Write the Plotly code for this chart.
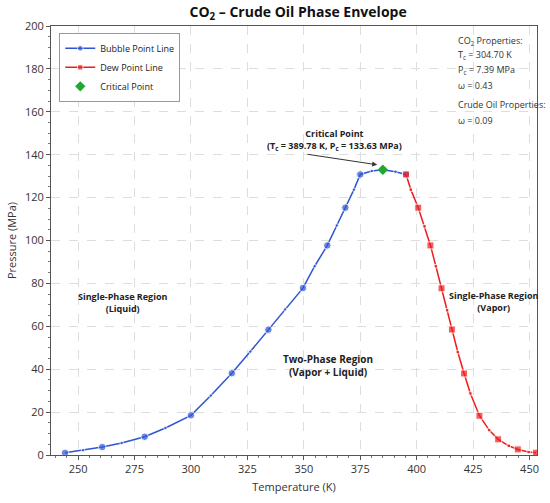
import plotly.graph_objects as go

# bubble point line (K, MPa), every other point drawn with a big marker
bubble_T = [244.2, 252.2, 260.7, 269.3, 279.5, 288.7, 300.0, 308.8, 318.1, 326.3, 334.3, 341.7,
            349.6, 354.8, 360.4, 364.6, 368.4, 372.2, 375.0, 380.1, 385.0, 390.6, 395.3]
bubble_P = [1.0, 2.2, 3.7, 5.6, 8.5, 12.6, 18.5, 27.7, 38.1, 48.2, 58.4, 67.9,
            77.8, 88.0, 97.7, 107.0, 115.3, 123.7, 130.8, 132.4, 133.0, 132.1, 130.8]

# dew point line
dew_T = [395.3, 397.4, 400.7, 403.5, 406.1, 408.5, 411.0, 413.5, 415.6, 418.2,
         421.0, 423.8, 427.8, 432.1, 436.1, 440.8, 444.8, 449.6, 452.9]
dew_P = [130.8, 123.7, 115.3, 106.6, 97.7, 88.0, 77.7, 67.5, 58.5, 48.0,
         38.0, 28.7, 18.3, 11.6, 7.3, 4.3, 2.6, 1.4, 1.1]

crit_T = [385.0]
crit_P = [133.0]

blue = "#2f55d4"
red = "#ee1c1c"
green = "#22a832"
txt = "#222222"

fig = go.Figure()
fig.add_trace(go.Scatter(
    x=bubble_T, y=bubble_P, mode="lines+markers", name="Bubble Point Line",
    line=dict(color=blue, width=1.5),
    marker=dict(color=blue, symbol="circle",
                size=[7.5 if i % 2 == 0 else 3.5 for i in range(len(bubble_T))])
))
fig.add_trace(go.Scatter(
    x=dew_T, y=dew_P, mode="lines+markers", name="Dew Point Line",
    line=dict(color=red, width=1.5),
    marker=dict(color=red, symbol="square",
                size=[7 if i % 2 == 0 else 3.5 for i in range(len(dew_T))])
))
fig.add_trace(go.Scatter(
    x=crit_T, y=crit_P, mode="markers", name="Critical Point",
    marker=dict(color=green, symbol="diamond", size=8)
))

bold = dict(size=9, color=txt, family="Open Sans")
ann = [
    dict(x=363.7, y=146.7, text="<b>Critical Point<br>(T<sub>c</sub> = 389.78 K, P<sub>c</sub> = 133.63 MPa)</b>",
         showarrow=False, font=bold),
    dict(x=382.5, y=135.3, ax=351, ay=140.3, axref="x", ayref="y", text="",
         showarrow=True, arrowhead=2, arrowsize=1, arrowwidth=1, arrowcolor="#333333"),
    dict(x=269.6, y=71.2, text="<b>Single-Phase Region<br>(Liquid)</b>", showarrow=False, font=bold),
    dict(x=360.6, y=41.9, text="<b>Two-Phase Region<br>(Vapor + Liquid)</b>", showarrow=False,
         font=dict(size=10, color=txt, family="Open Sans")),
    dict(x=434.2, y=71.4, text="<b>Single-Phase Region<br>(Vapor)</b>", showarrow=False, font=bold),
]
props = ["CO<sub>2</sub> Properties:", "T<sub>c</sub> = 304.70 K", "P<sub>c</sub> = 7.39 MPa",
         "ω = 0.43", "Crude Oil Properties:", "ω = 0.09"]
props_y = [193.2, 186.5, 179.5, 172.2, 163.3, 156.0]
for t, yy in zip(props, props_y):
    ann.append(dict(x=0.833, xref="paper", y=yy, text=t, showarrow=False, xanchor="left",
                    font=dict(size=9, color="#333333", family="Open Sans")))

axis_common = dict(
    showline=True, linecolor="#555555", linewidth=1, mirror=True,
    ticks="outside", ticklen=4, tickcolor="#555555",
    showgrid=True, gridcolor="#dddddd", griddash="dash", gridwidth=1,
    zeroline=False, tickfont=dict(size=11, color="#333333"),
    minor=dict(ticks="outside", ticklen=2, tickcolor="#777777", showgrid=False),
)

fig.update_layout(
    width=550, height=503,
    margin=dict(l=46, r=11, t=26, b=47),
    paper_bgcolor="white", plot_bgcolor="white",
    font=dict(family="Open Sans", color="#333333"),
    title=dict(text="<b>CO<sub>2</sub> – Crude Oil Phase Envelope</b>", x=0.542, xanchor="center",
               y=0.975, yanchor="middle", font=dict(size=14, color="#111111")),
    xaxis=dict(axis_common, range=[238, 453.3], tick0=250, dtick=25,
               title=dict(text="Temperature (K)", font=dict(size=11), standoff=8)),
    yaxis=dict(axis_common, range=[0, 200], dtick=20,
               title=dict(text="Pressure (MPa)", font=dict(size=11), standoff=6)),
    legend=dict(x=0.017, y=0.984, xanchor="left", yanchor="top",
                bgcolor="white", bordercolor="#999999", borderwidth=1,
                font=dict(size=9, color="#222222"), itemwidth=30, tracegroupgap=0),
    annotations=ann,
    showlegend=True,
)

# drop the default page margin so the 550x503 figure fills the window
fig.write_html("out.html", config={"displayModeBar": False},
               post_script="document.body.style.margin='0';")
